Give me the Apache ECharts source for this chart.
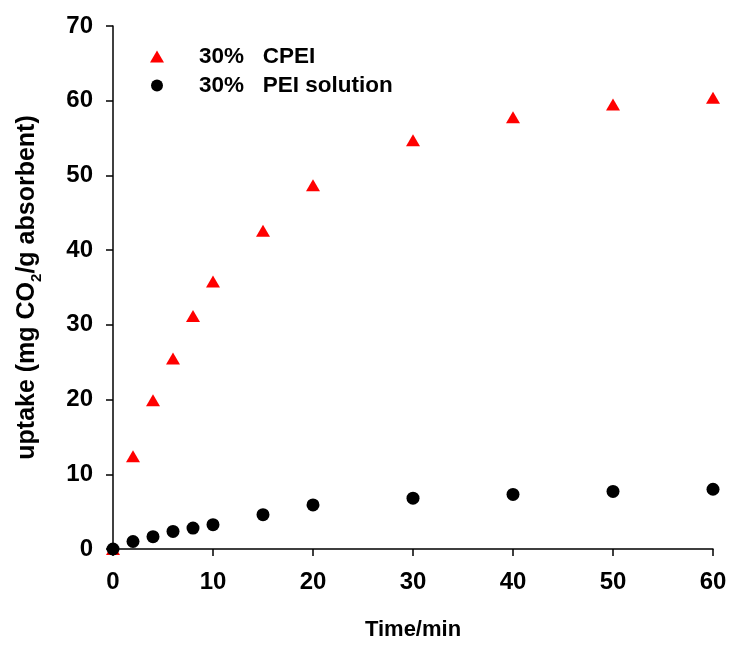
<!DOCTYPE html>
<html>
<head>
<meta charset="utf-8">
<script src="https://cdn.jsdelivr.net/npm/echarts@6/dist/echarts.min.js"></script>
<style>
  html, body { margin: 0; padding: 0; background: #fff; }
  #chart { width: 730px; height: 646px; }
</style>
</head>
<body>
<div id="chart"></div>
<script>
// Sampling times (min)
const timeMin = [0, 2, 4, 6, 8, 10, 15, 20, 30, 40, 50, 60];
// CO2 uptake, mg CO2 per g absorbent
const cpeiUptake = [0, 12.4, 19.9, 25.5, 31.2, 35.8, 42.6, 48.7, 54.7, 57.8, 59.5, 60.4];
const peiSolutionUptake = [0, 1.0, 1.65, 2.35, 2.8, 3.25, 4.6, 5.9, 6.8, 7.3, 7.7, 8.0];

const seriesNames = ['30% CPEI', '30% PEI solution'];
const xTicks = { min: 0, max: 60, interval: 10 };
const yTicks = { min: 0, max: 70, interval: 10 };

const FONT = '"Liberation Sans", Arial, sans-serif';

function pairs(xs, ys) {
  return xs.map((x, i) => [x, ys[i]]);
}

const axisCommon = {
  axisLine: { show: true, onZero: false, lineStyle: { color: '#000', width: 1.5 } },
  axisTick: { show: true, inside: false, length: 7, lineStyle: { color: '#000', width: 1.5 } },
  splitLine: { show: false },
  axisLabel: { color: '#000', fontFamily: FONT, fontWeight: 'bold', fontSize: 24 }
};

const chart = echarts.init(document.getElementById('chart'), null, { renderer: 'canvas' });

chart.setOption({
  animation: false,
  backgroundColor: '#fff',
  grid: { left: 113, right: 17, top: 26, bottom: 96, containLabel: false },
  legend: {
    orient: 'vertical',
    left: 145,
    top: 40,
    itemGap: 6,
    itemWidth: 14,
    itemHeight: 12,
    data: [
      { name: seriesNames[0], icon: 'triangle' },
      { name: seriesNames[1], icon: 'circle' }
    ],
    formatter: name => name.replace('% ', '%   '),
    textStyle: {
      color: '#000', fontFamily: FONT, fontWeight: 'bold', fontSize: 22.5,
      padding: [0, 0, 0, 30]
    }
  },
  xAxis: Object.assign({}, axisCommon, {
    type: 'value',
    min: xTicks.min, max: xTicks.max, interval: xTicks.interval,
    name: 'Time/min',
    nameLocation: 'middle',
    nameGap: 70,
    nameTextStyle: { color: '#000', fontFamily: FONT, fontWeight: 'bold', fontSize: 22 },
    axisLabel: Object.assign({}, axisCommon.axisLabel, { margin: 21 })
  }),
  yAxis: Object.assign({}, axisCommon, {
    type: 'value',
    min: yTicks.min, max: yTicks.max, interval: yTicks.interval,
    name: '{a|uptake (mg CO}{s|2}{a|/g absorbent)}',
    nameLocation: 'middle',
    nameRotate: 90,
    nameGap: 73,
    nameTextStyle: {
      color: '#000', fontFamily: FONT, fontWeight: 'bold', fontSize: 25,
      rich: {
        a: { color: '#000', fontFamily: FONT, fontWeight: 'bold', fontSize: 25, lineHeight: 26 },
        s: { color: '#000', fontFamily: FONT, fontWeight: 'bold', fontSize: 15, lineHeight: 26, verticalAlign: 'bottom', padding: [0, 0, -4, 0] }
      }
    },
    axisLabel: Object.assign({}, axisCommon.axisLabel, { margin: 20 })
  }),
  series: [
    {
      name: seriesNames[0],
      type: 'scatter',
      symbol: 'triangle',
      symbolSize: [14, 12],
      itemStyle: { color: '#ff0000', opacity: 1 },
      data: pairs(timeMin, cpeiUptake),
      z: 2
    },
    {
      name: seriesNames[1],
      type: 'scatter',
      symbol: 'circle',
      symbolSize: 13,
      itemStyle: { color: '#000', opacity: 1 },
      data: pairs(timeMin, peiSolutionUptake),
      z: 3
    }
  ]
});
</script>
</body>
</html>
